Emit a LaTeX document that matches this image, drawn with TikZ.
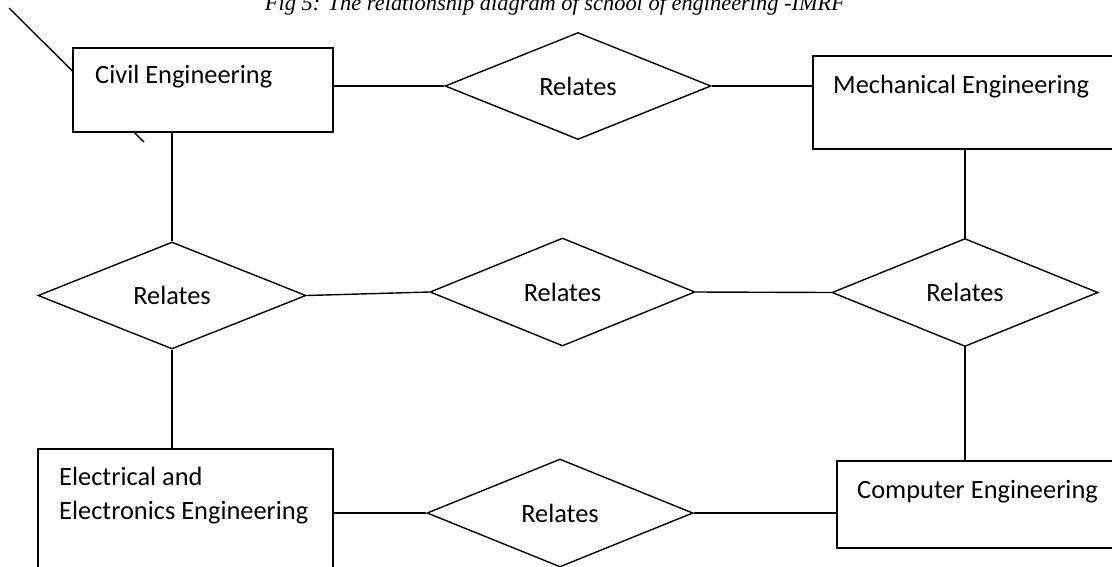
\documentclass[tikz,border=0pt]{standalone}
\usepackage{fontspec}
\setmainfont{Carlito}
\newfontfamily\capfont{Liberation Serif}
\usetikzlibrary{shapes.geometric}
\begin{document}
\begin{tikzpicture}[x=1pt,y=-1pt,
  every node/.style={font=\fontsize{26.4}{33}\selectfont},
  ent/.style={draw,line width=1.4pt,fill=white},
  rel/.style={draw,line width=1.4pt,fill=white,shape=diamond,inner sep=0pt,aspect=2.47},
  lbl/.style={anchor=base west,inner sep=0pt},
  conn/.style={line width=1.4pt}]
\useasboundingbox (0,0) rectangle (1112,566);
\clip (0,0) rectangle (1112,566);
% caption (cut at the top, as in the reference)
\node[anchor=base,inner sep=0pt] (cap) at (555,10) {\resizebox{580pt}{!}{\capfont\itshape Fig 5: The relationship diagram of school of engineering -IMRF}};
% stray diagonal line behind the Civil box
\coordinate (s1) at (9,8);
\coordinate (s2) at (144,142);
\draw[conn] (s1) -- (s2);
% entity boxes
\draw[ent] (73,48) rectangle (333,132);
\node[inner sep=0pt,minimum width=260pt,minimum height=84pt] (civil) at (203,90) {};
\draw[ent] (813,56) rectangle (1130,149);
\node[inner sep=0pt,minimum width=317pt,minimum height=93pt] (mech) at (971.5,102.5) {};
\draw[ent] (38,449) rectangle (333,579);
\node[inner sep=0pt,minimum width=295pt,minimum height=130pt] (eee) at (185.5,514) {};
\draw[ent] (837,461) rectangle (1130,548);
\node[inner sep=0pt,minimum width=293pt,minimum height=87pt] (comp) at (983.5,504.5) {};
\node[lbl] (tcivil) at (95,83) {Civil Engineering};
\node[lbl] (tmech) at (833,93) {Mechanical Engineering};
\node[lbl] (teee1) at (59,485) {Electrical and};
\node[lbl] (teee2) at (59,519) {Electronics Engineering};
\node[lbl] (tcomp) at (857,498) {Computer Engineering};
% relationship diamonds
\node[rel,minimum width=266pt,minimum height=107pt] (dt) at (578,86) {Relates};
\node[rel,minimum width=268pt,minimum height=107pt] (dl) at (172,295.5) {Relates};
\node[rel,minimum width=265pt,minimum height=108pt] (dm) at (562.5,292) {Relates};
\node[rel,minimum width=266pt,minimum height=108pt] (dr) at (965,292.5) {Relates};
\node[rel,minimum width=266pt,minimum height=108pt] (db) at (560,513) {Relates};
% connectors
\draw[conn] (dt.west) -- (dt.west -| civil.east);
\draw[conn] (dt.east) -- (dt.east -| mech.west);
\draw[conn] (dl.north) -- (dl.north |- civil.south);
\draw[conn] (dr.north) -- (dr.north |- mech.south);
\draw[conn] (dl.east) -- (dm.west);
\draw[conn] (dm.east) -- (dr.west);
\draw[conn] (dl.south) -- (dl.south |- eee.north);
\draw[conn] (dr.south) -- (dr.south |- comp.north);
\draw[conn] (db.west) -- (db.west -| eee.east);
\draw[conn] (db.east) -- (db.east -| comp.west);
\end{tikzpicture}
\end{document}
